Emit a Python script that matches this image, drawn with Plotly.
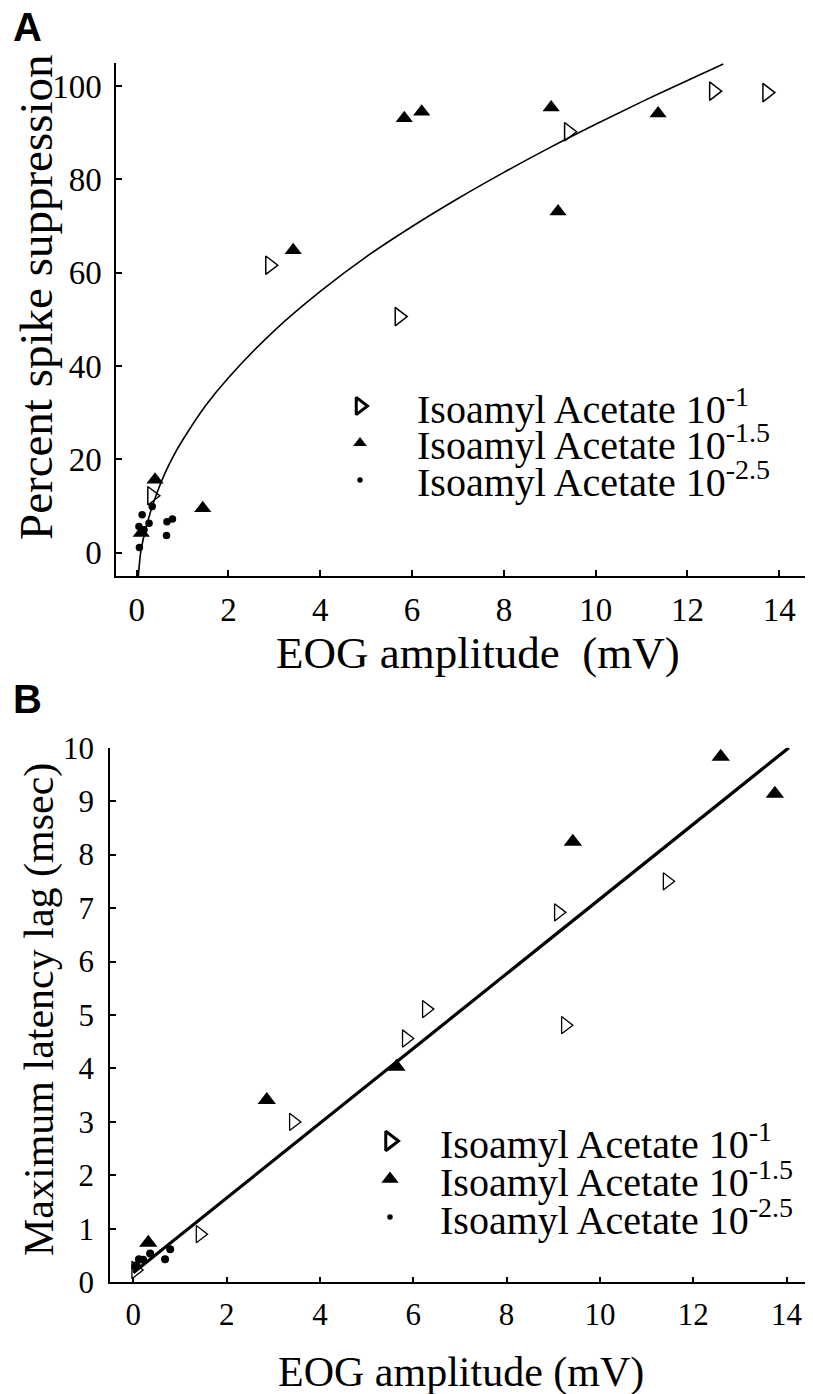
import plotly.graph_objects as go

# ---------------- data ----------------
# Panel A: percent spike suppression vs EOG amplitude
A_open_x = [0.33, 2.90, 5.72, 9.41, 12.57, 13.73]
A_open_y = [12.2, 61.6, 50.6, 90.2, 98.9, 98.6]
A_filled_x = [0.10, 0.40, 1.44, 3.41, 5.83, 6.21, 9.03, 9.18, 11.36]
A_filled_y = [4.2, 15.6, 9.5, 64.8, 93.1, 94.5, 95.4, 73.1, 94.1]
A_dot_x = [0.05, 0.06, 0.12, 0.16, 0.27, 0.34, 0.65, 0.66, 0.78]
A_dot_y = [5.6, 1.1, 8.1, 4.9, 6.3, 9.9, 3.7, 6.6, 7.2]
# fitted curve
A_fit_x = [0.037, 0.06, 0.087, 0.15, 0.3, 0.45, 0.63, 0.8, 1.0, 1.5, 2, 3, 4, 5, 6, 7, 8, 9, 10, 11, 12, 12.78]
A_fit_y = [-5, -2.4, 0, 3.2, 8.7, 13.0, 17.3, 20.7, 24.1, 31.5, 37.5, 47.6, 56, 63.4, 69.9, 75.9, 81.5, 86.8, 91.8, 96.6, 101.2, 104.7]

# Panel B: maximum latency lag vs EOG amplitude
B_open_x = [0.05, 1.43, 3.43, 5.85, 6.28, 9.11, 9.26, 11.44]
B_open_y = [0.23, 0.90, 3.0, 4.56, 5.11, 6.92, 4.81, 7.50]
B_filled_x = [0.32, 2.86, 5.64, 9.42, 12.59, 13.75]
B_filled_y = [0.74, 3.41, 4.03, 8.24, 9.83, 9.14]
B_dot_x = [0.04, 0.07, 0.12, 0.21, 0.36, 0.68, 0.79]
B_dot_y = [0.29, 0.32, 0.43, 0.42, 0.54, 0.43, 0.62]
B_fit_x = [0.0, 14.05]
B_fit_y = [0.18, 10.0]

A_xticks = [0, 2, 4, 6, 8, 10, 12, 14]
A_yticks = [0, 20, 40, 60, 80, 100]
B_xticks = [0, 2, 4, 6, 8, 10, 12, 14]
B_yticks = [0, 1, 2, 3, 4, 5, 6, 7, 8, 9, 10]

legend_labels = ["Isoamyl Acetate 10<sup>-1</sup>",
                 "Isoamyl Acetate 10<sup>-1.5</sup>",
                 "Isoamyl Acetate 10<sup>-2.5</sup>"]

# ---------------- layout helpers ----------------
# the page body keeps its default 8px margin, so the figure is sized to fill the rest of the window
OFF = 8
PAGE_W, PAGE_H = 813, 1394
W, H = PAGE_W - OFF, PAGE_H - OFF
SERIF = "Liberation Serif, Times New Roman, serif"
SANS = "Liberation Sans, Arial, sans-serif"


def fx(p):
    return (p - OFF) / W


def fy(p):
    return 1 - (p - OFF) / H


fig = go.Figure()

# Panel A traces
fig.add_trace(go.Scatter(x=A_fit_x, y=A_fit_y, mode="lines", line=dict(color="black", width=1.6, shape="spline", smoothing=1.0),
                         xaxis="x", yaxis="y", showlegend=False, cliponaxis=True))
fig.add_trace(go.Scatter(x=A_open_x, y=A_open_y, mode="markers",
                         marker=dict(symbol="triangle-right-open", size=16, color="black", line=dict(color="black", width=1.5)),
                         xaxis="x", yaxis="y", showlegend=False, cliponaxis=False))
fig.add_trace(go.Scatter(x=A_filled_x, y=A_filled_y, mode="markers",
                         marker=dict(symbol="triangle-up", size=15, color="black"),
                         xaxis="x", yaxis="y", showlegend=False, cliponaxis=False))
fig.add_trace(go.Scatter(x=A_dot_x, y=A_dot_y, mode="markers",
                         marker=dict(symbol="circle", size=7.5, color="black"),
                         xaxis="x", yaxis="y", showlegend=False, cliponaxis=False))

# Panel B traces
fig.add_trace(go.Scatter(x=B_fit_x, y=B_fit_y, mode="lines", line=dict(color="black", width=3.2),
                         xaxis="x2", yaxis="y2", showlegend=False, cliponaxis=False))
fig.add_trace(go.Scatter(x=B_open_x, y=B_open_y, mode="markers",
                         marker=dict(symbol="triangle-right-open", size=15, color="black", line=dict(color="black", width=1.3)),
                         xaxis="x2", yaxis="y2", showlegend=False, cliponaxis=False))
fig.add_trace(go.Scatter(x=B_filled_x, y=B_filled_y, mode="markers",
                         marker=dict(symbol="triangle-up", size=16, color="black"),
                         xaxis="x2", yaxis="y2", showlegend=False, cliponaxis=False))
fig.add_trace(go.Scatter(x=B_dot_x, y=B_dot_y, mode="markers",
                         marker=dict(symbol="circle", size=8, color="black"),
                         xaxis="x2", yaxis="y2", showlegend=False, cliponaxis=False))

# Hand-drawn legends (positions in page pixels on a hidden overlay axis)
LEGENDS = [
    dict(sym_x=360, text_x=415, rows=[406, 443, 480], sizes=[15, 12, 5.5]),
    dict(sym_x=390, text_x=438, rows=[1141, 1179, 1217], sizes=[17, 15, 5.5]),
]
legend_syms = ["triangle-right-open", "triangle-up", "circle"]
for lg in LEGENDS:
    for i, lab in enumerate(legend_labels):
        mk = dict(symbol=legend_syms[i], size=lg["sizes"][i], color="black")
        if i == 0:
            mk["line"] = dict(color="black", width=3)
        fig.add_trace(go.Scatter(x=[lg["sym_x"]], y=[lg["rows"][i]], mode="markers", marker=mk,
                                 xaxis="x3", yaxis="y3", showlegend=False, cliponaxis=False, hoverinfo="skip"))
        fig.add_annotation(x=fx(lg["text_x"]), y=fy(lg["rows"][i]), xref="paper", yref="paper",
                           text=lab, showarrow=False, xanchor="left", yanchor="middle",
                           font=dict(family=SERIF, size=40, color="black"))

axis_common = dict(showline=True, linecolor="black", linewidth=1.5, ticks="inside", ticklen=6,
                   tickwidth=1.5, tickcolor="black", showgrid=False, zeroline=False, mirror=False,
                   automargin=False)

fig.update_layout(
    width=W, height=H,
    margin=dict(l=0, r=0, t=0, b=0, autoexpand=False),
    paper_bgcolor="white", plot_bgcolor="rgba(0,0,0,0)",
    showlegend=False,
    xaxis=dict(domain=[fx(116), fx(805)], range=[-0.45, 14.56], anchor="y", tickvals=A_xticks,
               tickfont=dict(family=SERIF, size=33, color="black"), ticklabelstandoff=4, **axis_common),
    yaxis=dict(domain=[fy(576), fy(62.7)], range=[-5.0, 105.0], anchor="x", tickvals=A_yticks,
               tickfont=dict(family=SERIF, size=33, color="black"), ticklabelstandoff=6, **axis_common),
    xaxis2=dict(domain=[fx(110), fx(808)], range=[-0.5, 14.46], anchor="y2", tickvals=B_xticks,
                tickfont=dict(family=SERIF, size=31, color="black"), ticklabelstandoff=4, **axis_common),
    yaxis2=dict(domain=[fy(1282.3), fy(747.7)], range=[0, 10], anchor="x2", tickvals=B_yticks,
                tickfont=dict(family=SERIF, size=31, color="black"), ticklabelstandoff=8, **axis_common),
    xaxis3=dict(domain=[0, 1], range=[OFF, OFF + W], anchor="y3", visible=False, fixedrange=True),
    yaxis3=dict(domain=[0, 1], range=[OFF + H, OFF], anchor="x3", visible=False, fixedrange=True),
)

# Axis titles and panel letters
fig.add_annotation(x=fx(478), y=fy(653), xref="paper", yref="paper", text="EOG amplitude\u00a0 (mV)",
                   showarrow=False, xanchor="center", yanchor="middle",
                   font=dict(family=SERIF, size=45, color="black"))
fig.add_annotation(x=fx(36), y=fy(297), xref="paper", yref="paper", text="Percent spike suppression",
                   showarrow=False, xanchor="center", yanchor="middle", textangle=-90,
                   font=dict(family=SERIF, size=47, color="black"))
fig.add_annotation(x=fx(461), y=fy(1372), xref="paper", yref="paper", text="EOG amplitude (mV)",
                   showarrow=False, xanchor="center", yanchor="middle",
                   font=dict(family=SERIF, size=42, color="black"))
fig.add_annotation(x=fx(40), y=fy(1010), xref="paper", yref="paper", text="Maximum latency lag (msec)",
                   showarrow=False, xanchor="center", yanchor="middle", textangle=-90,
                   font=dict(family=SERIF, size=42, color="black"))
fig.add_annotation(x=fx(11), y=fy(27), xref="paper", yref="paper", text="<b>A</b>",
                   showarrow=False, xanchor="left", yanchor="middle",
                   font=dict(family=SANS, size=40, color="black"))
fig.add_annotation(x=fx(11), y=fy(699), xref="paper", yref="paper", text="<b>B</b>",
                   showarrow=False, xanchor="left", yanchor="middle",
                   font=dict(family=SANS, size=40, color="black"))

fig.write_html("out.html")
